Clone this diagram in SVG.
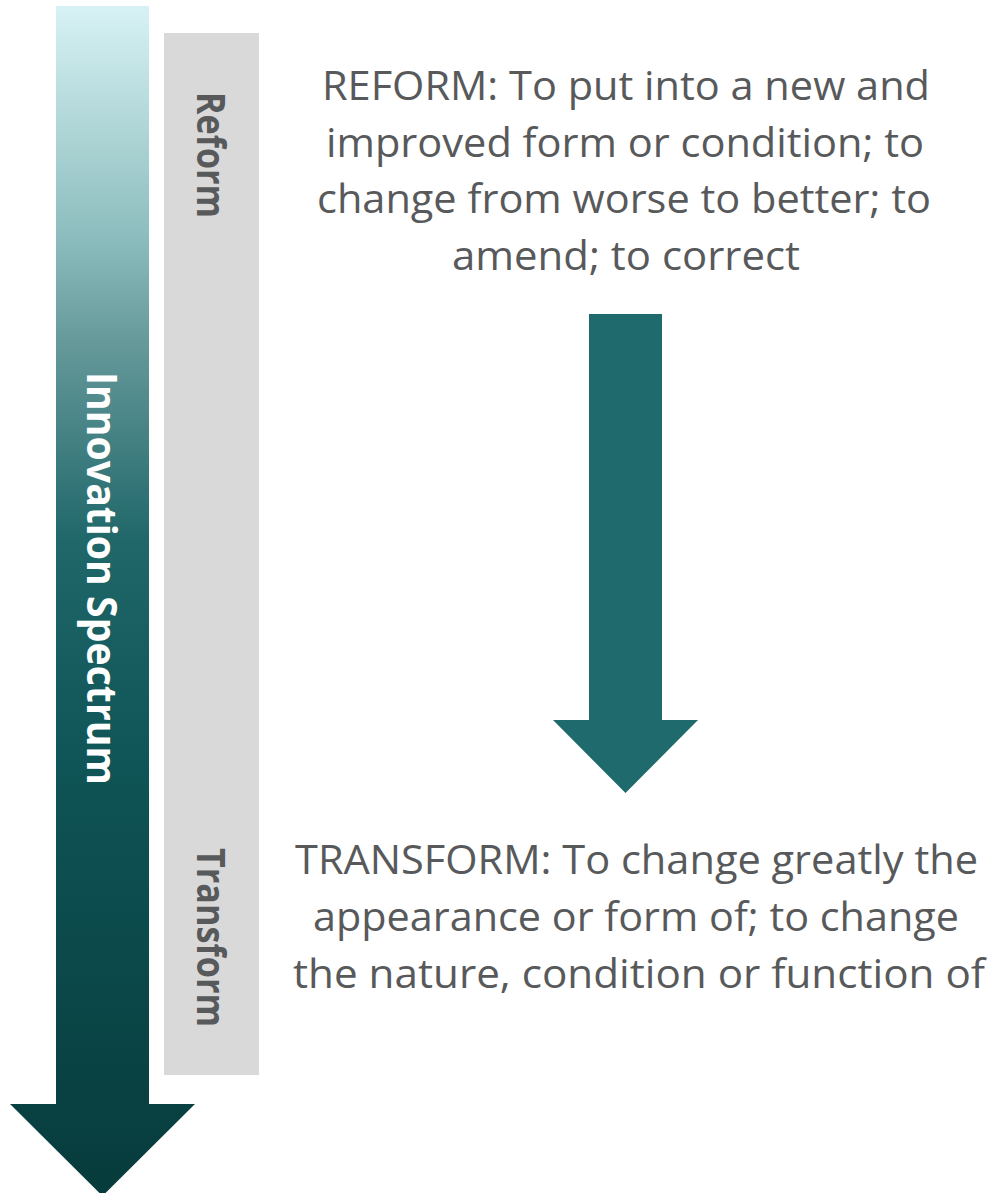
<svg xmlns="http://www.w3.org/2000/svg" width="988" height="1193" viewBox="0 0 988 1193">
  <style>
    .def { font-family: "Open Sans", "Liberation Sans", sans-serif; font-size: 39.5px; fill: #58595b; }
    .vlab { font-family: "Open Sans", "Liberation Sans", sans-serif; font-weight: bold; font-size: 39px; fill: #58595b; }
    .spec { font-family: "Open Sans", "Liberation Sans", sans-serif; font-weight: bold; font-size: 42px; fill: #ffffff; }
    .band { fill: #d9d9d9; }
  </style>
  <defs>
    <linearGradient id="specGrad" gradientUnits="userSpaceOnUse" x1="0" y1="6" x2="0" y2="1195">
      <stop offset="0" stop-color="#d7f2f4"/>
      <stop offset="0.2" stop-color="#8abbbc"/>
      <stop offset="0.28" stop-color="#679a9b"/>
      <stop offset="0.45" stop-color="#20676a"/>
      <stop offset="0.64" stop-color="#0f5456"/>
      <stop offset="1" stop-color="#073b3c"/>
    </linearGradient>
  </defs>

  <g id="spectrum-arrow">
    <polygon points="56,6 149,6 149,1104 195,1104 102.5,1196 10,1104 56,1104" fill="url(#specGrad)"/>
    <text class="spec" transform="translate(87,578.5) rotate(90)" text-anchor="middle" textLength="413" lengthAdjust="spacingAndGlyphs">Innovation Spectrum</text>
  </g>

  <g id="band">
    <rect class="band" x="164" y="33" width="95" height="1042"/>
    <text class="vlab" transform="translate(197,155) rotate(90)" text-anchor="middle" textLength="126" lengthAdjust="spacingAndGlyphs">Reform</text>
    <text class="vlab" transform="translate(197,937.5) rotate(90)" text-anchor="middle" textLength="179" lengthAdjust="spacingAndGlyphs">Transform</text>
  </g>

  <g id="reform-text">
    <text class="def" x="626" y="100" text-anchor="middle" textLength="608" lengthAdjust="spacingAndGlyphs">REFORM: To put into a new and</text>
    <text class="def" x="625" y="156.5" text-anchor="middle" textLength="598" lengthAdjust="spacingAndGlyphs">improved form or condition; to</text>
    <text class="def" x="624" y="213" text-anchor="middle" textLength="614" lengthAdjust="spacingAndGlyphs">change from worse to better; to</text>
    <text class="def" x="626" y="269.5" text-anchor="middle" textLength="348" lengthAdjust="spacingAndGlyphs">amend; to correct</text>
  </g>

  <g id="connectors">
    <polygon points="589,314 662,314 662,720 698,720 625.5,793 553,720 589,720" fill="#1e6a6c"/>
  </g>

  <g id="transform-text">
    <text class="def" x="636.5" y="874" text-anchor="middle" textLength="683" lengthAdjust="spacingAndGlyphs">TRANSFORM: To change greatly the</text>
    <text class="def" x="636" y="931" text-anchor="middle" textLength="646" lengthAdjust="spacingAndGlyphs">appearance or form of; to change</text>
    <text class="def" x="639" y="988" text-anchor="middle" textLength="692" lengthAdjust="spacingAndGlyphs">the nature, condition or function of</text>
  </g>
</svg>
